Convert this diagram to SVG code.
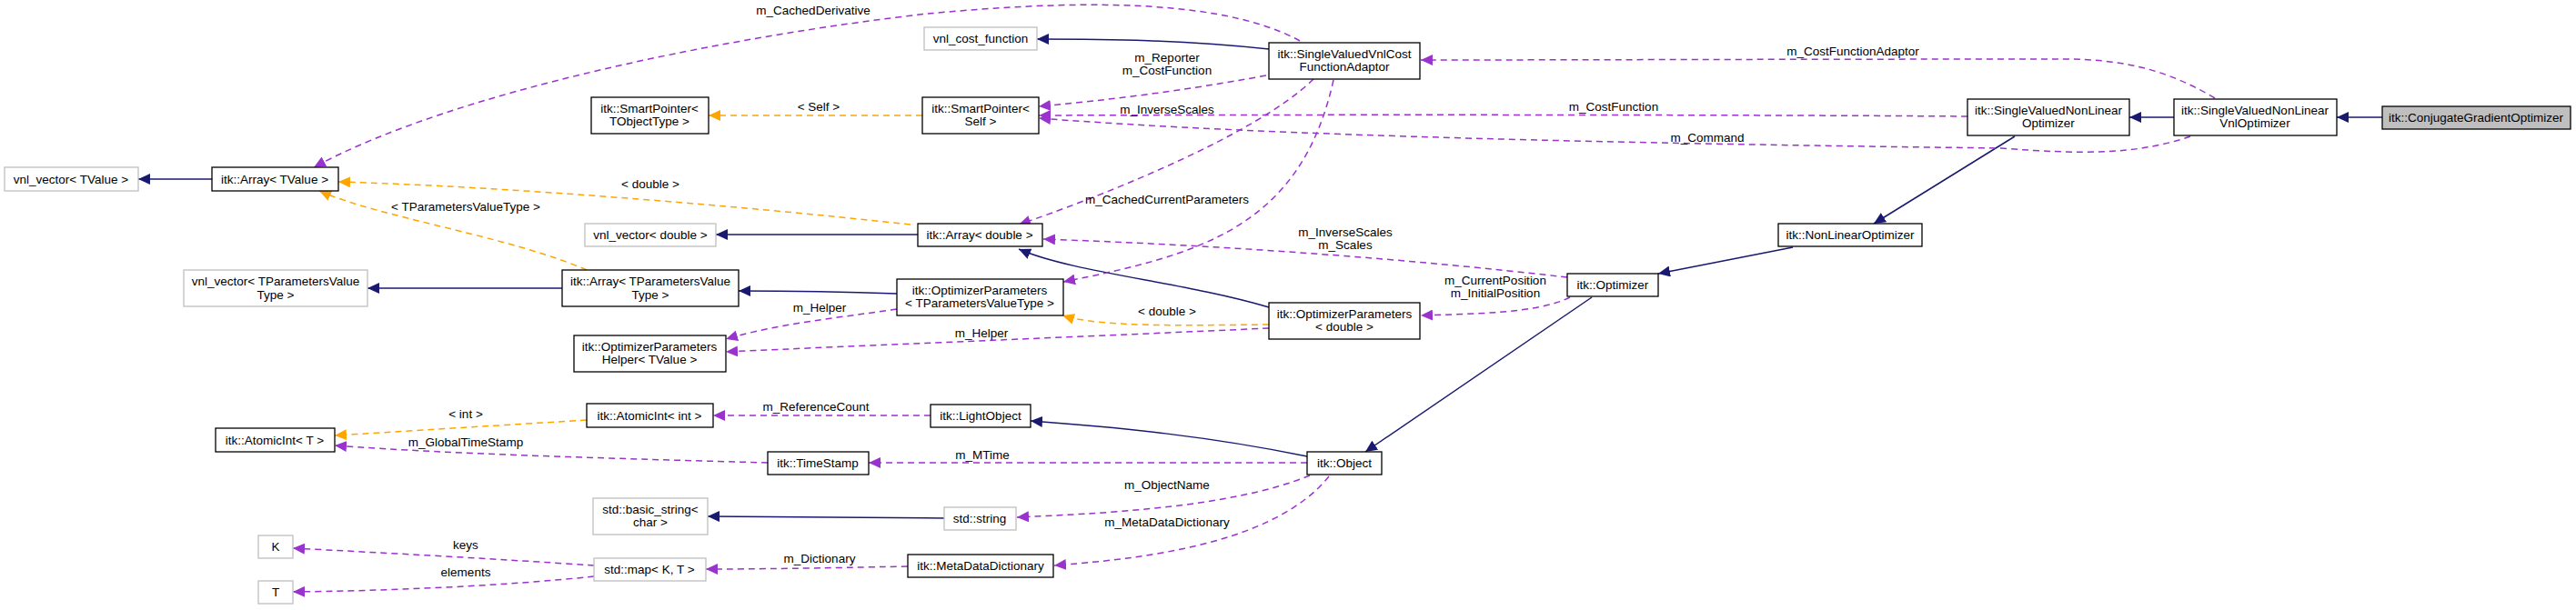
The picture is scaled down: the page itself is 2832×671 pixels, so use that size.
<svg xmlns="http://www.w3.org/2000/svg" width="2832" height="671" viewBox="0 0 2832 671">
<style>
text{font-family:"Liberation Sans",Arial,sans-serif;font-size:13.5px;fill:#000}
.n text{text-anchor:middle}
.b{fill:#fff;stroke:#000;stroke-width:1.3}
.g{fill:#fff;stroke:#bfbfbf;stroke-width:1.3}
.h{fill:#bfbfbf;stroke:#000;stroke-width:1.3}
.i{fill:none;stroke:#191970;stroke-width:1.5;marker-end:url(#ai)}
.t{fill:none;stroke:#ffa500;stroke-width:1.5;stroke-dasharray:7,5;marker-end:url(#at)}
.u{fill:none;stroke:#9a32cd;stroke-width:1.5;stroke-dasharray:7,5;marker-end:url(#au)}
.l{text-anchor:middle}
</style>
<defs>
<marker id="ai" markerUnits="userSpaceOnUse" markerWidth="14" markerHeight="12" refX="13" refY="6" orient="auto"><path d="M0,0L13,6L0,12z" fill="#191970"/></marker>
<marker id="at" markerUnits="userSpaceOnUse" markerWidth="14" markerHeight="12" refX="13" refY="6" orient="auto"><path d="M0,0L13,6L0,12z" fill="#ffa500"/></marker>
<marker id="au" markerUnits="userSpaceOnUse" markerWidth="14" markerHeight="12" refX="13" refY="6" orient="auto"><path d="M0,0L13,6L0,12z" fill="#9a32cd"/></marker>
</defs>
<rect width="2832" height="671" fill="#fff"/>
<g id="connectors">
<path class="i" d="M233,197H152"/>
<path class="i" d="M618,317H404"/>
<path class="i" d="M1009,258H787"/>
<path class="i" d="M986,323C930,321 870,320 812,320"/>
<path class="i" d="M1395,338C1300,310 1180,300 1120,274"/>
<path class="i" d="M1395,54C1300,44 1220,43 1140,43"/>
<path class="i" d="M2390,129H2341"/>
<path class="i" d="M2619,129H2569"/>
<path class="i" d="M2215,150L2060,246"/>
<path class="i" d="M1971,272L1823,301"/>
<path class="i" d="M1750,327L1501,497"/>
<path class="i" d="M1437,502C1330,480 1230,470 1133,463"/>
<path class="i" d="M1038,570L778,568"/>
<path class="t" d="M1014,127H779"/>
<path class="t" d="M1001,247C800,225 550,205 372,200"/>
<path class="t" d="M645,297C560,260 420,240 351,210"/>
<path class="t" d="M1395,357C1300,358 1210,360 1168,347"/>
<path class="t" d="M645,462L368,479"/>
<path class="u" d="M1429,45C1330,-10 1130,5 1020,15C800,40 500,100 345,184"/>
<path class="u" d="M1392,83C1300,100 1220,110 1142,117"/>
<path class="u" d="M2163,128C1900,126 1400,126 1142,127"/>
<path class="u" d="M2408,150C2350,170 2290,170 2200,163C1800,158 1400,150 1142,130"/>
<path class="u" d="M1444,87C1380,150 1200,220 1120,247"/>
<path class="u" d="M1466,88C1430,250 1320,280 1169,310"/>
<path class="u" d="M1723,305C1550,285 1350,270 1147,263"/>
<path class="u" d="M1726,327C1690,345 1620,345 1562,347"/>
<path class="u" d="M986,340C920,350 860,355 798,373"/>
<path class="u" d="M1395,361C1200,370 950,380 798,387"/>
<path class="u" d="M1023,457H784"/>
<path class="u" d="M844,509C700,505 500,500 368,490"/>
<path class="u" d="M1437,509H955"/>
<path class="u" d="M1440,523C1350,560 1200,565 1118,569"/>
<path class="u" d="M1461,524C1400,600 1250,615 1159,622"/>
<path class="u" d="M998,623C900,625 830,626 776,626"/>
<path class="u" d="M653,622C550,615 420,608 322,603"/>
<path class="u" d="M653,634C550,645 420,650 322,651"/>
<path class="u" d="M2435,108C2380,75 2330,65 2269,65C2000,65 1700,66 1562,66"/>
</g>
<g id="labels">
<text class="l" x="894" y="16">m_CachedDerivative</text>
<text class="l" x="900" y="122">&lt; Self &gt;</text>
<text class="l" x="715" y="207">&lt; double &gt;</text>
<text class="l" x="512" y="232">&lt; TParametersValueType &gt;</text>
<text class="l" x="1283" y="68">m_Reporter</text>
<text class="l" x="1283" y="82">m_CostFunction</text>
<text class="l" x="1283" y="125">m_InverseScales</text>
<text class="l" x="1774" y="122">m_CostFunction</text>
<text class="l" x="1877" y="156">m_Command</text>
<text class="l" x="2037" y="61">m_CostFunctionAdaptor</text>
<text class="l" x="1283" y="224">m_CachedCurrentParameters</text>
<text class="l" x="1479" y="260">m_InverseScales</text>
<text class="l" x="1479" y="274">m_Scales</text>
<text class="l" x="1644" y="313">m_CurrentPosition</text>
<text class="l" x="1644" y="327">m_InitialPosition</text>
<text class="l" x="1283" y="347">&lt; double &gt;</text>
<text class="l" x="901" y="343">m_Helper</text>
<text class="l" x="1079" y="371">m_Helper</text>
<text class="l" x="512" y="460">&lt; int &gt;</text>
<text class="l" x="897" y="452">m_ReferenceCount</text>
<text class="l" x="512" y="491">m_GlobalTimeStamp</text>
<text class="l" x="1080" y="505">m_MTime</text>
<text class="l" x="1283" y="538">m_ObjectName</text>
<text class="l" x="1283" y="579">m_MetaDataDictionary</text>
<text class="l" x="901" y="619">m_Dictionary</text>
<text class="l" x="512" y="604">keys</text>
<text class="l" x="512" y="634">elements</text>
</g>
<g class="n">
<g id="vnl_vector_TValue"><rect class="g" x="5" y="184" width="147" height="26"/><text x="78" y="202">vnl_vector&lt; TValue &gt;</text></g>
<g id="Array_TValue"><rect class="b" x="233" y="184" width="139" height="26"/><text x="302" y="202">itk::Array&lt; TValue &gt;</text></g>
<g id="SmartPointer_TObjectType"><rect class="b" x="650" y="107" width="129" height="40"/><text x="714" y="124">itk::SmartPointer&lt;</text><text x="714" y="138">TObjectType &gt;</text></g>
<g id="vnl_vector_double"><rect class="g" x="643" y="246" width="144" height="25"/><text x="715" y="263">vnl_vector&lt; double &gt;</text></g>
<g id="vnl_vector_TPVT"><rect class="g" x="202" y="297" width="202" height="40"/><text x="303" y="314">vnl_vector&lt; TParametersValue</text><text x="303" y="329">Type &gt;</text></g>
<g id="Array_TPVT"><rect class="b" x="618" y="297" width="194" height="40"/><text x="715" y="314">itk::Array&lt; TParametersValue</text><text x="715" y="329">Type &gt;</text></g>
<g id="vnl_cost_function"><rect class="g" x="1016" y="30" width="124" height="25"/><text x="1078" y="47">vnl_cost_function</text></g>
<g id="Adaptor"><rect class="b" x="1395" y="47" width="166" height="40"/><text x="1478" y="64">itk::SingleValuedVnlCost</text><text x="1478" y="78">FunctionAdaptor</text></g>
<g id="SmartPointer_Self"><rect class="b" x="1014" y="107" width="128" height="40"/><text x="1078" y="124">itk::SmartPointer&lt;</text><text x="1078" y="138">Self &gt;</text></g>
<g id="Array_double"><rect class="b" x="1009" y="246" width="137" height="25"/><text x="1077" y="263">itk::Array&lt; double &gt;</text></g>
<g id="OptimizerParameters_TPVT"><rect class="b" x="986" y="307" width="183" height="40"/><text x="1077" y="324">itk::OptimizerParameters</text><text x="1077" y="338">&lt; TParametersValueType &gt;</text></g>
<g id="Optimizer"><rect class="b" x="1723" y="301" width="100" height="25"/><text x="1773" y="318">itk::Optimizer</text></g>
<g id="SVNLOptimizer"><rect class="b" x="2163" y="109" width="178" height="40"/><text x="2252" y="126">itk::SingleValuedNonLinear</text><text x="2252" y="140">Optimizer</text></g>
<g id="SVNLVnlOptimizer"><rect class="b" x="2390" y="109" width="179" height="40"/><text x="2479" y="126">itk::SingleValuedNonLinear</text><text x="2479" y="140">VnlOptimizer</text></g>
<g id="ConjugateGradientOptimizer"><rect class="h" x="2619" y="117" width="207" height="25"/><text x="2722" y="134">itk::ConjugateGradientOptimizer</text></g>
<g id="NonLinearOptimizer"><rect class="b" x="1955" y="246" width="158" height="25"/><text x="2034" y="263">itk::NonLinearOptimizer</text></g>
<g id="OptimizerParameters_double"><rect class="b" x="1395" y="333" width="166" height="40"/><text x="1478" y="350">itk::OptimizerParameters</text><text x="1478" y="364">&lt; double &gt;</text></g>
<g id="OptimizerParametersHelper"><rect class="b" x="631" y="369" width="167" height="40"/><text x="714" y="386">itk::OptimizerParameters</text><text x="714" y="400">Helper&lt; TValue &gt;</text></g>
<g id="AtomicInt_int"><rect class="b" x="645" y="444" width="139" height="26"/><text x="714" y="462">itk::AtomicInt&lt; int &gt;</text></g>
<g id="AtomicInt_T"><rect class="b" x="237" y="471" width="131" height="26"/><text x="302" y="489">itk::AtomicInt&lt; T &gt;</text></g>
<g id="LightObject"><rect class="b" x="1023" y="445" width="110" height="25"/><text x="1078" y="462">itk::LightObject</text></g>
<g id="TimeStamp"><rect class="b" x="844" y="497" width="111" height="25"/><text x="899" y="514">itk::TimeStamp</text></g>
<g id="Object"><rect class="b" x="1437" y="497" width="82" height="25"/><text x="1478" y="514">itk::Object</text></g>
<g id="basic_string"><rect class="g" x="652" y="548" width="126" height="40"/><text x="715" y="565">std::basic_string&lt;</text><text x="715" y="579">char &gt;</text></g>
<g id="std_string"><rect class="g" x="1038" y="558" width="79" height="25"/><text x="1077" y="575">std::string</text></g>
<g id="MetaDataDictionary"><rect class="b" x="998" y="610" width="160" height="25"/><text x="1078" y="627">itk::MetaDataDictionary</text></g>
<g id="std_map"><rect class="g" x="653" y="614" width="123" height="25"/><text x="714" y="631">std::map&lt; K, T &gt;</text></g>
<g id="K"><rect class="g" x="284" y="589" width="38" height="25"/><text x="303" y="606">K</text></g>
<g id="T"><rect class="g" x="284" y="639" width="38" height="25"/><text x="303" y="656">T</text></g>
</g>
</svg>
